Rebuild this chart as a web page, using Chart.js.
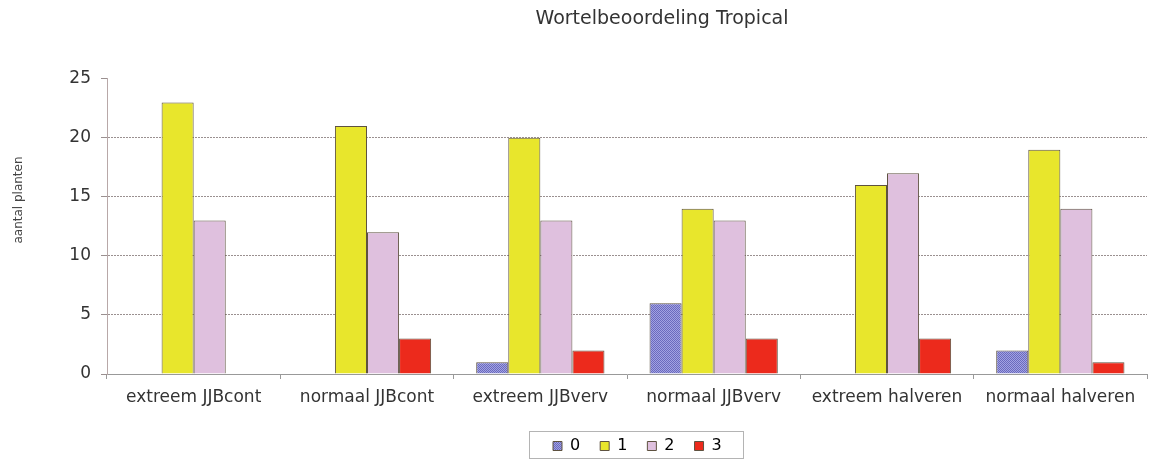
<!DOCTYPE html>
<html>
<head>
<meta charset="utf-8">
<script src="https://cdn.jsdelivr.net/npm/chart.js@4/dist/chart.umd.min.js"></script>
<style>
  html, body { margin: 0; padding: 0; background: #fff; }
  #wrap { width: 1155px; height: 461px; }
</style>
</head>
<body>
<div id="wrap"><canvas id="c" width="1155" height="461"></canvas></div>
<script>
// categories and counts per score class
const categories = ['extreem JJBcont', 'normaal JJBcont', 'extreem JJBverv', 'normaal JJBverv', 'extreem halveren', 'normaal halveren'];
const score0 = [0, 0, 1, 6, 0, 2];
const score1 = [23, 21, 20, 14, 16, 19];
const score2 = [13, 12, 13, 13, 17, 14];
const score3 = [0, 3, 2, 3, 3, 1];
const yTicks = [0, 5, 10, 15, 20, 25];
const yTitle = 'aantal planten';

const FONT = 'DejaVu Sans, Verdana, sans-serif';
const BORDER = '#5e5240';

// dotted fill for class 0
function dotPattern() {
  const p = document.createElement('canvas');
  p.width = 2; p.height = 2;
  const g = p.getContext('2d');
  g.fillStyle = '#a2a2e2';
  g.fillRect(0, 0, 2, 2);
  g.fillStyle = '#6a6abe';
  g.fillRect(0, 0, 1, 1);
  g.fillRect(1, 1, 1, 1);
  return g.createPattern(p, 'repeat');
}

// move title/legend off-centre, box the legend, draw the y caption
const layoutPlugin = {
  id: 'layoutTweaks',
  afterLayout(chart) {
    const t = chart.titleBlock, l = chart.legend;
    if (t) {
      const d = 662 - (t.left + t.right) / 2;
      t.left += d; t.right += d;
      t.top += 1; t.bottom += 1;
    }
    if (l && l.lineWidths) {
      const pad = l.options.labels.padding;
      const x0 = (l.left + pad + l.right - l.lineWidths[0]) / 2;
      const d = 553 - x0;
      l.left += d; l.right += d;
      l.top += 3; l.bottom += 3;
    }
  },
  afterDraw(chart) {
    const ctx = chart.ctx;
    const l = chart.legend;
    ctx.save();
    if (l && l.lineWidths) {
      const pad = l.options.labels.padding;
      const x0 = (l.left + pad + l.right - l.lineWidths[0]) / 2;
      const x1 = x0 + l.lineWidths[0] - pad;
      ctx.strokeStyle = '#b4b4b4';
      ctx.lineWidth = 1;
      ctx.strokeRect(Math.round(x0 - 24) + 0.5, 431.5, Math.round(x1 - x0 + 45), 27);
    }
    ctx.translate(19, 200);
    ctx.rotate(-Math.PI / 2);
    ctx.fillStyle = '#444';
    ctx.font = '12px ' + FONT;
    ctx.textAlign = 'center';
    ctx.textBaseline = 'middle';
    ctx.fillText(yTitle, 0, 0);
    ctx.restore();
  }
};

const ds = (label, data, bg) => ({
  label, data, backgroundColor: bg, borderColor: BORDER, borderWidth: 1,
  categoryPercentage: 0.74, barPercentage: 1.0
});

new Chart(document.getElementById('c'), {
  type: 'bar',
  data: {
    labels: categories,
    datasets: [
      ds('0', score0, dotPattern()),
      ds('1', score1, '#e8e62c'),
      ds('2', score2, '#dfc0de'),
      ds('3', score3, '#ec2a1c')
    ]
  },
  options: {
    responsive: false,
    animation: false,
    layout: { padding: { left: 0, right: 8, top: 0, bottom: 0 } },
    plugins: {
      title: {
        display: true, text: 'Wortelbeoordeling Tropical', color: '#333',
        font: { family: FONT, size: 19, weight: 'normal' },
        padding: { top: 7, bottom: 49 }
      },
      legend: {
        position: 'bottom',
        labels: {
          boxWidth: 9, boxHeight: 9, padding: 20, color: '#555',
          font: { family: FONT, size: 16 },
          generateLabels(chart) {
            return chart.data.datasets.map((d, i) => ({
              text: d.label, fillStyle: d.backgroundColor, strokeStyle: BORDER,
              lineWidth: 1, datasetIndex: i, hidden: false
            }));
          }
        }
      },
      tooltip: { enabled: false }
    },
    scales: {
      x: {
        afterFit(scale) { scale.height = 41; },
        grid: { offset: true, drawOnChartArea: false, tickLength: 5, color: '#999' },
        border: { color: '#999' },
        ticks: { color: '#333', font: { family: FONT, size: 17 }, padding: 8, maxRotation: 0 }
      },
      y: {
        min: 0, max: 25,
        afterBuildTicks(scale) { scale.ticks = yTicks.map(v => ({ value: v })); },
        afterFit(scale) { scale.width = 107; },
        grid: {
          color: c => (c.tick && (c.tick.value === 0 || c.tick.value === 25)) ? 'rgba(0,0,0,0)' : '#9a9090',
          tickColor: '#9a9090', tickLength: 6, lineWidth: 1
        },
        border: { color: '#b8a8a8', dash: [2, 1] },
        ticks: { color: '#333', font: { family: FONT, size: 17 }, padding: 10 }
      }
    }
  },
  plugins: [layoutPlugin]
});
</script>
</body>
</html>
